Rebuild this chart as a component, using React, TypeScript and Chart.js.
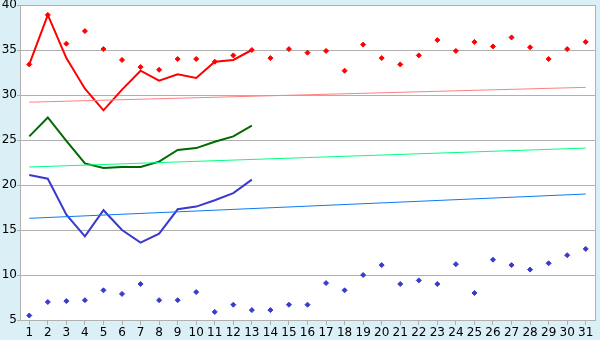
import React, { useEffect, useRef } from 'react';
import { Chart, registerables } from 'chart.js';

Chart.register(...registerables);

const days = ['1', '2', '3', '4', '5', '6', '7', '8', '9', '10', '11', '12', '13', '14', '15', '16', '17', '18', '19', '20', '21', '22', '23', '24', '25', '26', '27', '28', '29', '30', '31'];

const redLine = [33.4, 38.9, 34.1, 30.7, 28.3, 30.6, 32.7, 31.6, 32.3, 31.9, 33.7, 33.9, 35.0];
const greenLine = [25.4, 27.5, 24.9, 22.4, 21.9, 22.0, 22.0, 22.6, 23.9, 24.1, 24.8, 25.4, 26.6];
const blueLine = [21.1, 20.7, 16.7, 14.3, 17.2, 15.0, 13.6, 14.6, 17.3, 17.6, 18.3, 19.1, 20.6];

const redPoints = [33.4, 38.9, 35.7, 37.1, 35.1, 33.9, 33.1, 32.8, 34.0, 34.0, 33.7, 34.4, 35.0, 34.1, 35.1, 34.7, 34.9, 32.7, 35.6, 34.1, 33.4, 34.4, 36.1, 34.9, 35.9, 35.4, 36.4, 35.3, 34.0, 35.1, 35.9];
const bluePoints = [5.5, 7.0, 7.1, 7.2, 8.3, 7.9, 9.0, 7.2, 7.2, 8.1, 5.9, 6.7, 6.1, 6.1, 6.7, 6.7, 9.1, 8.3, 10.0, 11.1, 9.0, 9.4, 9.0, 11.2, 8.0, 11.7, 11.1, 10.6, 11.3, 12.2, 12.9];

// trend lines: value at first day and at last day
const redTrend = [29.2, 30.85];
const greenTrend = [22.0, 24.1];
const blueTrend = [16.3, 19.0];

const yTicks = [5, 10, 15, 20, 25, 30, 35, 40];

const GRID = '#b0b0b0';
const BG = '#daeff6';

const bgPlugin = {
  id: 'bgPlugin',
  beforeDraw(chart: any) {
    const { ctx, chartArea: a, width, height } = chart;
    ctx.save();
    ctx.fillStyle = BG;
    ctx.fillRect(0, 0, width, height);
    ctx.fillStyle = '#ffffff';
    ctx.fillRect(a.left, a.top, a.right - a.left, a.bottom - a.top);
    ctx.restore();
  },
  afterDraw(chart: any) {
    const { ctx, chartArea: a } = chart;
    ctx.save();
    ctx.strokeStyle = GRID;
    ctx.lineWidth = 1;
    ctx.beginPath();
    ctx.moveTo(Math.round(a.right) + 0.5, a.top);
    ctx.lineTo(Math.round(a.right) + 0.5, a.bottom);
    ctx.stroke();
    ctx.restore();
  },
};

function trend(vals: number[]) {
  return [
    { x: days[0], y: vals[0] },
    { x: days[days.length - 1], y: vals[1] },
  ];
}

export default function App() {
  const ref = useRef<HTMLCanvasElement | null>(null);

  useEffect(() => {
    if (!ref.current) return;
    const font = { family: 'DejaVu Sans', size: 12 };
    const chart = new Chart(ref.current, {
      type: 'line',
      data: {
        labels: days,
        datasets: [
          {
            label: 'redPoints', data: redPoints, showLine: false,
            pointStyle: 'rectRot', pointRadius: 2.5, pointBorderWidth: 1,
            pointBackgroundColor: '#ff0000', pointBorderColor: '#ff0000', borderColor: '#ff0000',
          },
          {
            label: 'bluePoints', data: bluePoints, showLine: false,
            pointStyle: 'rectRot', pointRadius: 2.5, pointBorderWidth: 1,
            pointBackgroundColor: '#3a3acc', pointBorderColor: '#3a3acc', borderColor: '#3a3acc',
          },
          {
            label: 'redTrend', data: trend(redTrend) as any, borderColor: '#ff8080', borderWidth: 1, pointRadius: 0,
          },
          {
            label: 'greenTrend', data: trend(greenTrend) as any, borderColor: '#00ff80', borderWidth: 1, pointRadius: 0,
          },
          {
            label: 'blueTrend', data: trend(blueTrend) as any, borderColor: '#0a7cf0', borderWidth: 1, pointRadius: 0,
          },
          {
            label: 'redLine', data: redLine, borderColor: '#ff0000', borderWidth: 2, pointRadius: 0,
          },
          {
            label: 'greenLine', data: greenLine, borderColor: '#006a00', borderWidth: 2, pointRadius: 0,
          },
          {
            label: 'blueLine', data: blueLine, borderColor: '#3a3acc', borderWidth: 2, pointRadius: 0,
          },
        ],
      },
      options: {
        responsive: false,
        animation: false,
        devicePixelRatio: 1,
        layout: { padding: { top: 5, right: 5, left: 0, bottom: 0 } },
        elements: { line: { tension: 0 } },
        plugins: { legend: { display: false }, tooltip: { enabled: false } },
        scales: {
          x: {
            type: 'category',
            offset: true,
            grid: { display: true, drawOnChartArea: false, offset: false, tickLength: 5, color: GRID },
            border: { color: GRID },
            ticks: { autoSkip: false, maxRotation: 0, minRotation: 0, color: '#000', font, padding: 1 },
            afterFit(s: any) { s.height = 20; s.paddingLeft = 0; s.paddingRight = 0; },
          },
          y: {
            min: yTicks[0],
            max: yTicks[yTicks.length - 1],
            afterBuildTicks(s: any) { s.ticks = yTicks.map((v) => ({ value: v })); },
            grid: { color: GRID, tickLength: 3 },
            border: { color: GRID },
            ticks: { color: '#000', font, padding: 0 },
            afterFit(s: any) { s.width = 20; s.paddingTop = 0; s.paddingBottom = 0; },
          },
        },
      },
      plugins: [bgPlugin],
    });
    return () => chart.destroy();
  }, []);

  return (
    <div style={{ position: 'absolute', left: 0, top: 0, width: 600, height: 340 }}>
      <canvas ref={ref} width={600} height={340} style={{ display: 'block' }} />
    </div>
  );
}
